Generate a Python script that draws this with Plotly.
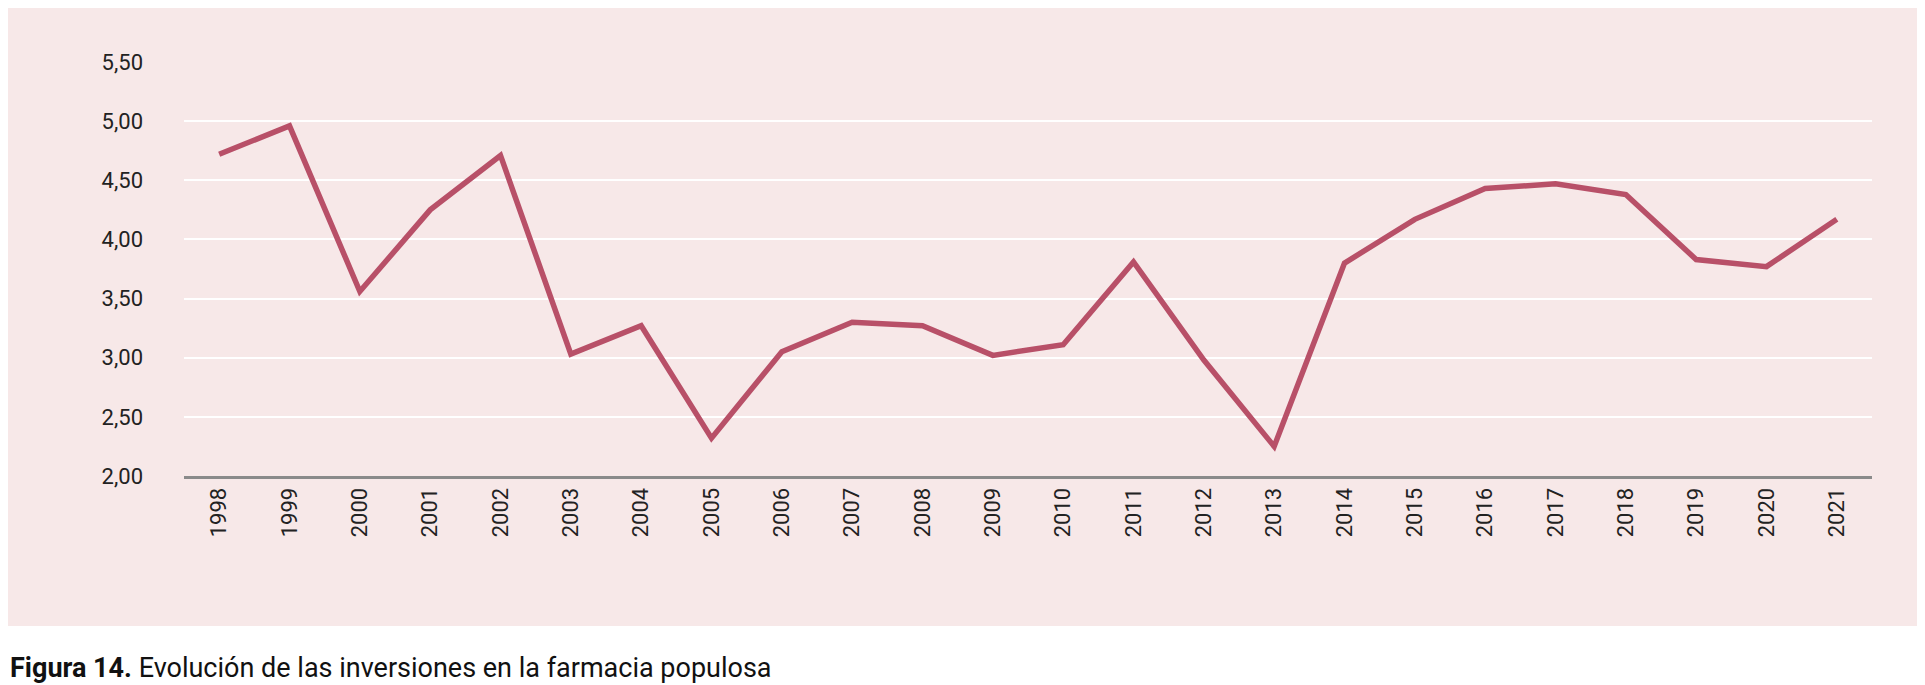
import plotly.graph_objects as go

years = [str(y) for y in range(1998, 2022)]
values = [4.72, 4.96, 3.56, 4.25, 4.71, 3.03, 3.27, 2.32, 3.05, 3.30, 3.27, 3.02,
          3.11, 3.81, 2.98, 2.25, 3.80, 4.17, 4.43, 4.47, 4.38, 3.83, 3.77, 4.17]
yticks = [2.0, 2.5, 3.0, 3.5, 4.0, 4.5, 5.0, 5.5]
caption_bold = "Figura 14."
caption_rest = " Evolución de las inversiones en la farmacia populosa"

FONT = "Liberation Sans Narrow, Roboto, sans-serif"
W, H = 1925, 685
L, R, T, B = 176, 61, 54, 217
pw, ph = W - L - R, H - T - B

fig = go.Figure(go.Scatter(x=years, y=values, mode="lines",
                           line=dict(color="#b85068", width=5.5),
                           hoverinfo="skip"))
fig.update_layout(
    width=W, height=H, margin=dict(l=L, r=R, t=T, b=B),
    paper_bgcolor="white", plot_bgcolor="rgba(0,0,0,0)",
    separators=",.", showlegend=False,
    font=dict(family=FONT, size=22, color="#222"),
    shapes=[dict(type="rect", xref="paper", yref="paper", layer="below",
                 x0=-L / pw, x1=1 + R / pw, y0=-(618 - (H - B)) / ph, y1=1 + T / ph,
                 fillcolor="#f7e8e8", line=dict(width=0))],
    annotations=[dict(xref="paper", yref="paper", x=-L / pw, y=-(660 - (H - B)) / ph,
                      xanchor="left", yanchor="middle", showarrow=False,
                      text=f"<b>{caption_bold}</b>{caption_rest}",
                      font=dict(family=FONT, size=27, color="#111"))],
)
fig.update_xaxes(type="category", range=[-0.5, 23.5], tickangle=-90,
                 showgrid=False, showline=True, linecolor="#8a8a8a", linewidth=3,
                 ticks="", tickfont=dict(size=22))
fig.update_yaxes(range=[2.0, 5.5], tickvals=yticks, tickformat=".2f",
                 showgrid=True, gridcolor="white", gridwidth=1.5,
                 zeroline=False, ticks="", tickfont=dict(size=22), ticklabelstandoff=40)
fig.write_html("out.html")
